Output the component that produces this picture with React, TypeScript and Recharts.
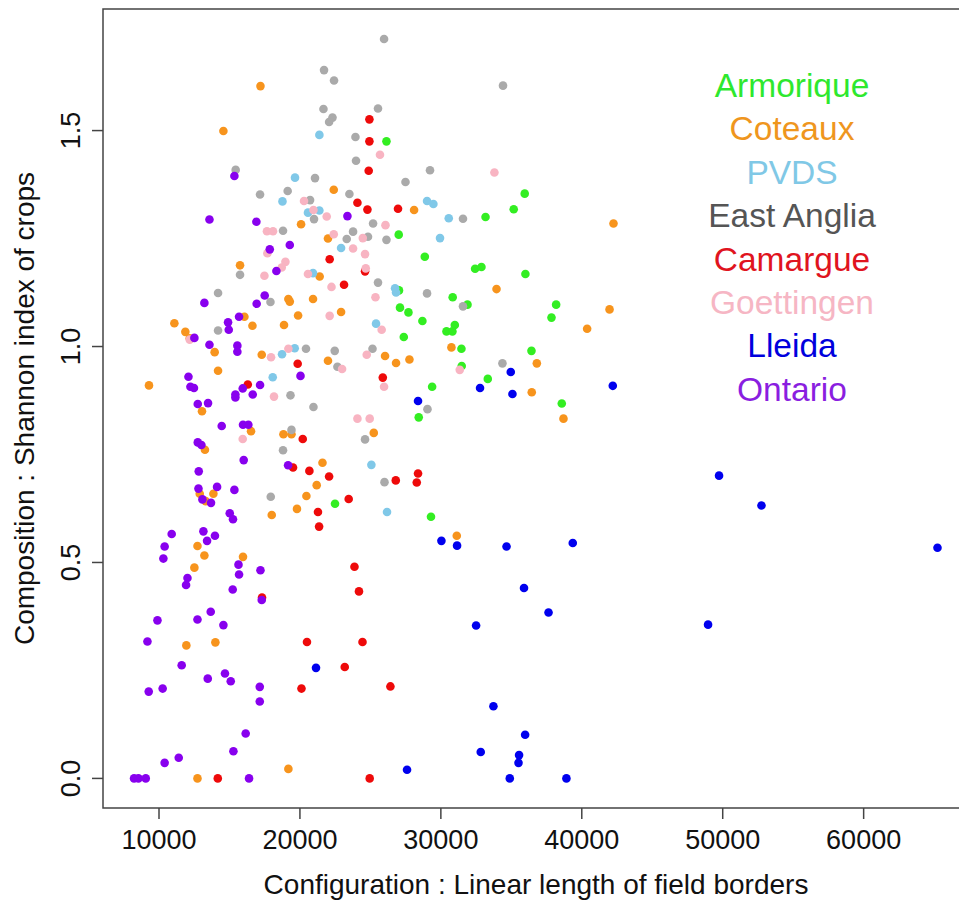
import { ScatterChart, Scatter, XAxis, YAxis, ReferenceArea } from 'recharts';

const FONT = '"Liberation Sans", Arial, Helvetica, sans-serif';

// x: linear length of field borders, y: Shannon index of crops
const armorique: [number, number][] = [
    [26140, 1.475], [27010, 1.259], [27030, 1.13], [27100, 1.09], [27700, 1.079], [27370, 1.022],
    [28430, 0.836], [22490, 0.636], [35950, 1.354], [35170, 1.318], [33170, 1.3], [28860, 1.208],
    [32430, 1.18], [32880, 1.184], [36000, 1.168], [30840, 1.114], [31890, 1.097], [28690, 1.059],
    [38180, 1.097], [37850, 1.067], [30990, 1.05], [30400, 1.035], [30820, 1.035], [31460, 0.995],
    [36430, 0.99], [31480, 0.955], [33330, 0.925], [29380, 0.907], [38580, 0.868], [29300, 0.606],
];

const coteaux: [number, number][] = [
    [17200, 1.603], [14570, 1.499], [22400, 1.363], [28100, 1.316], [20080, 1.283], [21990, 1.25],
    [15750, 1.188], [21400, 1.162], [19180, 1.11], [19280, 1.104], [20930, 1.11], [11090, 1.054],
    [16060, 1.069], [16630, 1.048], [18870, 1.05], [19870, 1.072], [22920, 1.08], [11870, 1.034],
    [12180, 1.019], [13950, 0.987], [17290, 0.981], [26040, 0.978], [26820, 0.962], [27770, 0.97],
    [21990, 0.967], [14190, 0.944], [9290, 0.91], [13050, 0.85], [25240, 0.8], [16530, 0.804],
    [18830, 0.797], [19400, 0.797], [13260, 0.761], [21600, 0.731], [21190, 0.679], [12890, 0.659],
    [13860, 0.659], [13310, 0.642], [20460, 0.654], [19790, 0.624], [18000, 0.61], [12730, 0.538],
    [13220, 0.516], [12510, 0.488], [15960, 0.513], [11940, 0.308], [14000, 0.315], [19180, 0.022],
    [12730, 0], [42250, 1.285], [33950, 1.133], [41970, 1.086], [40380, 1.041], [30750, 0.998],
    [36810, 0.961], [36450, 0.894], [38700, 0.833], [31130, 0.562],
];

const pvds: [number, number][] = [
    [21380, 1.49], [19650, 1.391], [18760, 1.336], [20570, 1.31], [21380, 1.315], [22920, 1.228],
    [20930, 1.17], [26750, 1.135], [26820, 1.125], [25400, 1.053], [18730, 0.982], [19630, 0.996],
    [18070, 0.929], [25070, 0.726], [26180, 0.617], [29020, 1.337], [29470, 1.33], [30560, 1.297],
    [29940, 1.251],
];

const eastAnglia: [number, number][] = [
    [25970, 1.712], [21710, 1.64], [22420, 1.616], [21670, 1.55], [25540, 1.551], [22310, 1.53],
    [22070, 1.52], [23940, 1.485], [23980, 1.43], [15440, 1.409], [21070, 1.39], [27490, 1.381],
    [17170, 1.352], [19130, 1.36], [23510, 1.353], [20720, 1.339], [21000, 1.295], [25190, 1.285],
    [18800, 1.268], [23770, 1.266], [23320, 1.249], [24830, 1.254], [26140, 1.247], [15750, 1.166],
    [25540, 1.148], [14190, 1.124], [17910, 1.103], [14190, 1.037], [20430, 0.995], [22470, 0.99],
    [25150, 0.995], [22660, 0.953], [19330, 0.887], [20960, 0.86], [24620, 0.785], [19400, 0.807],
    [18800, 0.76], [26000, 0.686], [17930, 0.652], [34410, 1.604], [29230, 1.408], [31570, 1.296],
    [29020, 1.123], [31570, 1.093], [34370, 0.961], [29050, 0.855],
];

const camargue: [number, number][] = [
    [24930, 1.526], [24930, 1.475], [24880, 1.407], [24080, 1.333], [24790, 1.317], [26960, 1.319],
    [22110, 1.202], [24620, 1.174], [23130, 1.143], [19840, 0.96], [25880, 0.928], [16300, 0.912],
    [20200, 0.786], [19510, 0.72], [20670, 0.712], [22070, 0.699], [26800, 0.69], [28290, 0.685],
    [28380, 0.706], [23460, 0.647], [21280, 0.617], [21360, 0.583], [17310, 0.419], [23870, 0.49],
    [24190, 0.433], [20500, 0.316], [24440, 0.316], [23180, 0.258], [20110, 0.208], [26420, 0.213],
    [14170, 0], [24950, 0],
];

const goettingen: [number, number][] = [
    [25680, 1.444], [20290, 1.337], [20960, 1.316], [21900, 1.301], [26070, 1.281], [17660, 1.267],
    [18090, 1.267], [22400, 1.26], [24460, 1.251], [17690, 1.216], [23770, 1.227], [24620, 1.214],
    [18970, 1.196], [18710, 1.183], [24670, 1.181], [17480, 1.164], [20570, 1.168], [22240, 1.138],
    [25360, 1.114], [22110, 1.071], [25800, 1.039], [12180, 1.016], [17950, 0.975], [19180, 0.995],
    [24740, 0.981], [22990, 0.948], [25970, 0.907], [18160, 0.884], [24080, 0.833], [24950, 0.833],
    [15940, 0.786], [33800, 1.403], [31340, 0.946],
];

const lleida: [number, number][] = [
    [28380, 0.874], [34960, 0.941], [32780, 0.904], [35080, 0.89], [42200, 0.909], [30040, 0.55],
    [31150, 0.539], [34660, 0.537], [39360, 0.545], [35900, 0.441], [37640, 0.384], [32500, 0.354],
    [33730, 0.167], [35980, 0.101], [32830, 0.061], [35550, 0.054], [35510, 0.036], [27600, 0.02],
    [34890, 0], [38910, 0], [21140, 0.256], [49740, 0.701], [52750, 0.632], [65240, 0.534],
    [48960, 0.356],
];

const ontario: [number, number][] = [
    [15350, 1.395], [13580, 1.294], [16910, 1.289], [23370, 1.302], [19280, 1.235], [17860, 1.225],
    [18330, 1.175], [13220, 1.101], [17500, 1.118], [16930, 1.099], [14900, 1.056], [14950, 1.039],
    [15680, 1.069], [12510, 1.02], [13580, 1.004], [15560, 1.002], [15560, 0.988], [20040, 0.932],
    [12090, 0.93], [12230, 0.907], [12480, 0.904], [15940, 0.903], [17170, 0.911], [15420, 0.889],
    [15420, 0.882], [16650, 0.889], [12750, 0.867], [13480, 0.869], [14450, 0.816], [15960, 0.819],
    [16340, 0.819], [12750, 0.778], [13010, 0.772], [16010, 0.737], [19160, 0.725], [12820, 0.711],
    [12800, 0.671], [14120, 0.675], [15350, 0.668], [13080, 0.646], [13690, 0.638], [15020, 0.614],
    [15250, 0.6], [10900, 0.566], [13150, 0.572], [13970, 0.562], [13410, 0.55], [10400, 0.537],
    [10310, 0.509], [15640, 0.495], [15680, 0.472], [17200, 0.482], [12020, 0.464], [11920, 0.448],
    [15230, 0.4375], [17290, 0.413], [13670, 0.386], [9890, 0.366], [12730, 0.368], [14570, 0.355],
    [9180, 0.317], [11610, 0.262], [13460, 0.231], [14680, 0.243], [15090, 0.225], [9270, 0.201],
    [10260, 0.208], [17150, 0.212], [17150, 0.178], [16150, 0.104], [15280, 0.063], [11400, 0.048],
    [10400, 0.036], [8230, 0], [8540, 0], [9060, 0], [16390, 0],
];

const regions = [
    { name: 'Armorique', points: armorique, color: '#33ee22', label: '#2ee82e' },
    { name: 'Coteaux', points: coteaux, color: '#f7941d', label: '#ef961e' },
    { name: 'PVDS', points: pvds, color: '#80c8e8', label: '#80c8e6' },
    { name: 'East Anglia', points: eastAnglia, color: '#aaaaaa', label: '#555555' },
    { name: 'Camargue', points: camargue, color: '#ee0a0a', label: '#e0141e' },
    { name: 'Goettingen', points: goettingen, color: '#f8b4c2', label: '#f6b6c4' },
    { name: 'Lleida', points: lleida, color: '#0000ee', label: '#0000dd' },
    { name: 'Ontario', points: ontario, color: '#8800ee', label: '#8a1ee0' },
];

const xTicks = [10000, 20000, 30000, 40000, 50000, 60000];
const yTicks = [0, 0.5, 1, 1.5];
const xDomain: [number, number] = [6026, 67476];
const yDomain: [number, number] = [-0.0685, 1.7815];

function Dot(color: string) {
    return (props: any) => <circle cx={props.cx} cy={props.cy} r={4.3} fill={color} />;
}

function XTick(props: any) {
    return (
        <text x={props.x} y={props.y} dy={28} textAnchor="middle" fontSize={27} fontFamily={FONT} fill="#111">
            {props.payload.value}
        </text>
    );
}

function YTick(props: any) {
    const x = props.x - 10;
    return (
        <text x={x} y={props.y} transform={`rotate(-90, ${x}, ${props.y})`} textAnchor="middle"
            fontSize={27} fontFamily={FONT} fill="#111">
            {Number(props.payload.value).toFixed(1)}
        </text>
    );
}

// region names, drawn as plain text in the upper right of the plot
function RegionLegend() {
    return (
        <div style={{
            position: 'absolute', top: 64, left: 692, width: 200,
            fontFamily: FONT, fontSize: 33.5, lineHeight: '43.4px', textAlign: 'center',
        }}>
            {regions.map((r) => (
                <div key={r.name} style={{ color: r.label }}>{r.name}</div>
            ))}
        </div>
    );
}

export default function App() {
    return (
        <div style={{ position: 'absolute', left: 0, top: 0, width: 959, height: 901, overflow: 'hidden', background: '#fff' }}>
            <ScatterChart width={980} height={901} margin={{ top: 9, right: 11, bottom: 0, left: 0 }}>
                <XAxis
                    type="number"
                    dataKey="x"
                    domain={xDomain}
                    ticks={xTicks}
                    allowDataOverflow
                    axisLine={false}
                    tickSize={11}
                    tickMargin={2}
                    tickLine={{ stroke: '#444', strokeWidth: 1.5 }}
                    height={93}
                    tick={XTick}
                    label={{
                        content: ({ viewBox }: any) => (
                            <text x={viewBox.x + viewBox.width / 2} y={viewBox.y + 86} textAnchor="middle"
                                fontSize={28} fontFamily={FONT} fill="#111">
                                Configuration : Linear length of field borders
                            </text>
                        ),
                    }}
                />
                <YAxis
                    type="number"
                    dataKey="y"
                    domain={yDomain}
                    ticks={yTicks}
                    allowDataOverflow
                    axisLine={false}
                    tickSize={11}
                    tickMargin={2}
                    tickLine={{ stroke: '#444', strokeWidth: 1.5 }}
                    width={103}
                    tick={YTick}
                    label={{
                        content: ({ viewBox }: any) => {
                            const cy = viewBox.y + viewBox.height / 2;
                            return (
                                <text x={33.5} y={cy} transform={`rotate(-90, 33.5, ${cy})`} textAnchor="middle"
                                    fontSize={28} fontFamily={FONT} fill="#111">
                                    Composition : Shannon index of crops
                                </text>
                            );
                        },
                    }}
                />
                <ReferenceArea
                    x1={xDomain[0]}
                    x2={xDomain[1]}
                    y1={yDomain[0]}
                    y2={yDomain[1]}
                    fill="none"
                    stroke="#444"
                    strokeWidth={1.5}
                    ifOverflow="visible"
                />
                {regions.map((r) => (
                    <Scatter
                        key={r.name}
                        name={r.name}
                        data={r.points.map(([x, y]) => ({ x, y }))}
                        fill={r.color}
                        shape={Dot(r.color)}
                        isAnimationActive={false}
                    />
                ))}
            </ScatterChart>
            <RegionLegend />
        </div>
    );
}
